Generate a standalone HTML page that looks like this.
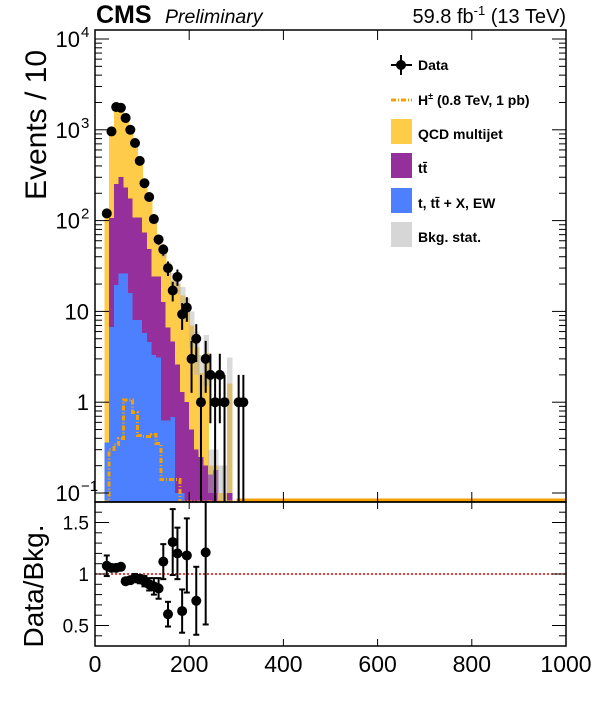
<!DOCTYPE html>
<html><head><meta charset="utf-8"><style>
body{margin:0;background:#fff;}
svg{display:block;font-family:"Liberation Sans",sans-serif;}
</style></head><body>
<svg id="chart" width="596" height="722" xmlns="http://www.w3.org/2000/svg">
<g id="hist" shape-rendering="crispEdges"></g>
<g id="ratio"></g>
<g id="axes"></g>
<text x="96" y="23" font-size="25" font-weight="bold">CMS</text>
<text x="165" y="23" font-size="19.5" font-style="italic">Preliminary</text>
<text x="566" y="23" font-size="20" text-anchor="end">59.8 fb<tspan dy="-8" font-size="13">-1</tspan><tspan dy="8"> (13 TeV)</tspan></text>
<text transform="translate(46,125) rotate(-90)" font-size="30" text-anchor="middle">Events / 10</text>
<text transform="translate(43,586) rotate(-90)" font-size="28" text-anchor="middle">Data/Bkg.</text>
<g id="legend" font-size="14" font-weight="bold">
  <g>
    <line x1="391" y1="65" x2="412" y2="65" stroke="#000" stroke-width="2"/><line x1="401" y1="55" x2="401" y2="75" stroke="#000" stroke-width="2"/><circle cx="401" cy="65" r="5"/>
    <text x="418" y="70">Data</text></g>
  <g>
    <line x1="391" y1="100" x2="412" y2="100" stroke="#f5a000" stroke-width="3" stroke-dasharray="5,2,1,2"/>
    <text x="418" y="105">H<tspan dy="-6" font-size="9">±</tspan><tspan dy="6"> (0.8 TeV, 1 pb)</tspan></text></g>
  <g><rect x="391" y="119" width="21" height="25" fill="#ffcc4a"/><text x="418" y="139">QCD multijet</text></g>
  <g><rect x="391" y="153" width="21" height="25" fill="#952f9c"/><text x="418" y="173">tt̄</text></g>
  <g><rect x="391" y="188" width="21" height="25" fill="#4c80ff"/><text x="418" y="208">t, tt̄ + X, EW</text></g>
  <g><rect x="391" y="222" width="21" height="25" fill="#d6d6d6"/><text x="418" y="242">Bkg. stat.</text></g>
</g>
</svg>
<script>
const binEdges = [20,30,40,50,60,70,80,90,100,110,120,130,140,150,160,170,180,190,200,210,220,230,240,250,260,270,280,290,300,310];
const totalBkg = [120,1000,1750,1750,1400,1000,700,450,270,180,100,60,45,30,22,20,15,11,7,4,2.1,3.5,0.2,0.2,0.1,0.1,1.6,0,0,0];
const ttbar = [0,100,235,275,205,160,100,100,68,44,21,21,12,6,4,2.5,1.2,1,0.5,0.3,0.25,0.2,0.16,0.1,0,0,0.1,0,0,0];
const ew = [0.36,6.7,19.5,26,26,16,8,8,5.8,4.6,3.3,3.1,0.63,0.63,0.69,0.1,0.1,0,0,0,0,0,0,0.08,0,0,0,0,0,0];
const bkgErr = [4,25,40,40,35,30,22,18,15,12,9,7,6,5,4.5,4.5,3.5,3,3,2,1.2,2,0.1,0.1,0.1,0.1,1.5,0,0,0];
const signal = [0.08,0.3,0.34,0.4,1.06,1.06,0.77,0.43,0.42,0.42,0.44,0.35,0.14,0.14,0.14,0.14,0.08,0.08,0.08,0.08,0.08,0.08,0.08,0.08,0.08,0.08,0.08,0.08,0.08,0.08];
const dataCounts = [120,960,1780,1750,1350,1000,716,455,258,182,104,62,48,30,17,24,9.3,11,3,5,1,3,2,1,2,1,0,0,1,1];
const ratioBins = [20,30,40,50,60,70,80,90,100,110,120,130,140,150,160,170,180,190,210,230];
const ratioVals = [1.08,1.06,1.06,1.07,0.93,0.94,0.96,0.95,0.93,0.9,0.88,0.86,1.12,0.61,1.31,1.2,0.64,1.18,0.74,1.21];
const ratioErrs = [0.1,0.03,0.03,0.03,0.03,0.03,0.04,0.04,0.05,0.06,0.08,0.1,0.17,0.12,0.32,0.25,0.21,0.36,0.33,0.7];
const xTicks = [0,200,400,600,800,1000];
const yTicks = [[0.1,"10","-1"],[1,"1",""],[10,"10",""],[100,"10","2"],[1000,"10","3"],[10000,"10","4"]];
const rTicks = [0.5,1,1.5];

const NS="http://www.w3.org/2000/svg";
const L=95,R=566,T=30,B=502,RB=646;
const X=v=>L+(v/1000)*(R-L);
const Y=v=>39+(4-Math.log10(Math.max(v,1e-3)))*90.8;
const RY=v=>574-(v-1)*103;
function mk(p,tag,a){const e=document.createElementNS(NS,tag);for(const k in a)e.setAttribute(k,a[k]);p.appendChild(e);return e;}
const H=document.getElementById('hist'),RG=document.getElementById('ratio'),A=document.getElementById('axes');
const clipY=y=>Math.min(Math.max(y,T),B);

const defs=mk(document.getElementById('chart'),'defs',{});
const cp=mk(defs,'clipPath',{id:'mc'});mk(cp,'rect',{x:L,y:T,width:R-L,height:B-T});
H.setAttribute('clip-path','url(#mc)');

binEdges.forEach((lo,i)=>{
  const x0=X(lo),w=X(lo+10)-x0;
  const layers=[[totalBkg[i],'#ffcc4a','bar-qcd'],[ttbar[i]+ew[i],'#952f9c','bar-ttbar'],[ew[i],'#4c80ff','bar-ew']];
  layers.forEach(([v,c,n])=>{ if(v>0){const y=clipY(Y(v));
    const r=mk(H,'rect',{x:x0,y:y,width:w+0.8,height:B-y,fill:c});
    
    }});
  if(bkgErr[i]>0&&totalBkg[i]>0){const y1=clipY(Y(totalBkg[i]+bkgErr[i])),y2=clipY(Y(totalBkg[i]-bkgErr[i]));
    const r=mk(H,'rect',{x:x0,y:y1,width:w+0.8,height:y2-y1,fill:'#b0b0b0','fill-opacity':0.45});
    
    }
});
let d='';binEdges.forEach((lo,i)=>{const y=clipY(Y(signal[i]));d+=(i?'L':'M')+X(lo)+','+y+'L'+X(lo+10)+','+y;});
d+='L'+R+','+clipY(Y(0.08));
const sp=mk(H,'path',{d:d,fill:'none',stroke:'#f5a000','stroke-width':3,'stroke-dasharray':'5,2,1,2'});


const bl=mk(H,'line',{x1:X(300),y1:B-2,x2:R,y2:B-2,stroke:'#f5a000','stroke-width':3});


binEdges.forEach((lo,i)=>{const n=dataCounts[i];if(n<=0)return;const cx=X(lo+5),e=Math.sqrt(n);
  const g=mk(H,'g',{'shape-rendering':'auto'});
  
  
  mk(g,'line',{x1:cx,y1:clipY(Y(n+e)),x2:cx,y2:clipY(n-e>0?Y(n-e):B+5),stroke:'#000','stroke-width':2});
  mk(g,'circle',{cx:cx,cy:Y(n),r:5,fill:'#000'});});

const rl=mk(RG,'line',{x1:L,y1:RY(1),x2:R,y2:RY(1),stroke:'#d00','stroke-width':1.5,'stroke-dasharray':'2,2'});


ratioBins.forEach((lo,i)=>{const cx=X(lo+5),v=ratioVals[i],e=ratioErrs[i];
  const g=mk(RG,'g',{});
  
  
  const y1=Math.max(RY(v+e),B),y2=Math.min(RY(v-e),RB);
  mk(g,'line',{x1:cx,y1:y1,x2:cx,y2:y2,stroke:'#000','stroke-width':2});
  mk(g,'line',{x1:cx-3,y1:y1,x2:cx+3,y2:y1,stroke:'#000','stroke-width':2});
  mk(g,'line',{x1:cx-3,y1:y2,x2:cx+3,y2:y2,stroke:'#000','stroke-width':2});
  mk(g,'circle',{cx:cx,cy:RY(v),r:5,fill:'#000'});});

mk(A,'rect',{x:L,y:T,width:R-L,height:B-T,fill:'none',stroke:'#000','stroke-width':1.5});
mk(A,'rect',{x:L,y:B,width:R-L,height:RB-B,fill:'none',stroke:'#000','stroke-width':1.5});
xTicks.forEach(v=>{const x=X(v);
  [[T,T+10],[B-10,B+7],[RB-7,RB]].forEach(([a,b])=>mk(A,'line',{x1:x,y1:a,x2:x,y2:b,stroke:'#000'}));
  const t=mk(A,'text',{x:x,y:672,'font-size':23,'text-anchor':'middle'});t.textContent=v;
  
  });
for(let dec=-1;dec<4;dec++)for(let m=1;m<10;m++){const v=m*Math.pow(10,dec);const y=Y(v);if(y<T||y>B)continue;const len=m===1?14:7;
  mk(A,'line',{x1:L,y1:y,x2:L+len,y2:y,stroke:'#000'});mk(A,'line',{x1:R-len,y1:y,x2:R,y2:y,stroke:'#000'});}
mk(A,'line',{x1:L,y1:Y(10000),x2:L+14,y2:Y(10000),stroke:'#000'});mk(A,'line',{x1:R-14,y1:Y(10000),x2:R,y2:Y(10000),stroke:'#000'});
yTicks.forEach(([v,b,e])=>{const t=mk(A,'text',{x:e?80:89,y:Y(v)+8,'font-size':22,'text-anchor':'end'});
  t.textContent=b;
  
  
  if(e){const s=mk(A,'text',{x:81,y:Y(v)-2,'font-size':15});s.textContent=e.replace('-','\u2212');}});
for(let v=0.4;v<1.71;v+=0.1){const y=RY(v);const major=Math.abs((v*2)-Math.round(v*2))<0.01;const len=major?14:7;
  mk(A,'line',{x1:L,y1:y,x2:L+len,y2:y,stroke:'#000'});mk(A,'line',{x1:R-len,y1:y,x2:R,y2:y,stroke:'#000'});}
rTicks.forEach(v=>{const t=mk(A,'text',{x:89,y:RY(v)+7,'font-size':19,'text-anchor':'end'});t.textContent=v;
  
  });
</script>
</body></html>
